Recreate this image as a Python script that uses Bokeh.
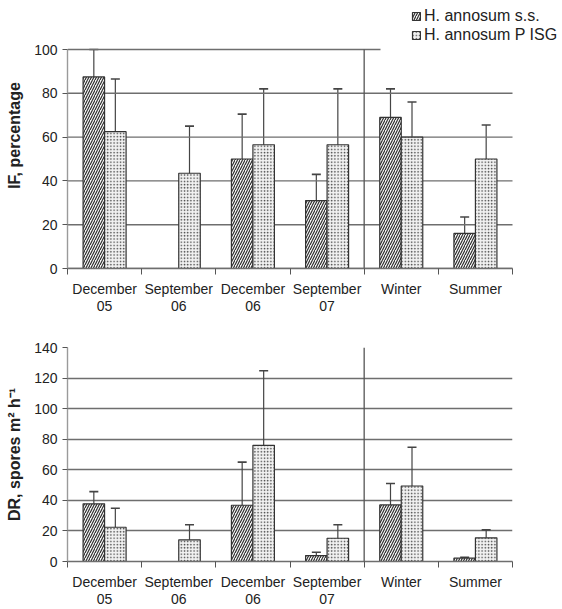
from bokeh.plotting import figure
from bokeh.models import (ColumnDataSource, Range1d, FixedTicker, Whisker, TeeHead,
                          Legend, LegendItem, Span, BoxAnnotation)
from bokeh.layouts import column
from bokeh.embed import file_html
from bokeh.resources import INLINE

nan = float("nan")

# ---------------- data ----------------
categories = ["December\n05", "September\n06", "December\n06", "September\n07", "Winter", "Summer"]
series_names = ["H. annosum s.s.", "H. annosum P ISG"]

if_ss = [87.5, 0, 50, 31, 69, 16]
if_ss_hi = [100, nan, 70.5, 43, 82, 23.5]
if_ss_lo = [75, nan, 29.5, 19, 56, 8.5]
if_p = [62.5, 43.5, 56.5, 56.5, 60, 50]
if_p_hi = [86.5, 65, 82, 82, 76, 65.5]
if_p_lo = [38.5, 22, 31, 31, 44, 34.5]

dr_ss = [37.7, 0, 36.8, 3.9, 37, 2.2]
dr_ss_hi = [45.7, nan, 65, 6.1, 51, 2.8]
dr_ss_lo = [29.7, nan, 8.6, 1.7, 23, 1.6]
dr_p = [22.4, 14.2, 76, 15.2, 49.4, 15.5]
dr_p_hi = [34.8, 24, 124.8, 24, 74.7, 20.7]
dr_p_lo = [10, 4.4, 27.2, 6.4, 24.1, 10.3]

if_ticks = [0, 20, 40, 60, 80, 100]
dr_ticks = [0, 20, 40, 60, 80, 100, 120, 140]

# ---------------- style / layout ----------------
FONT = "Liberation Sans"
TXT = "#222222"
GRID = "#6e6e6e"
BAR_W = 0.29
SEP_AT = 3.5          # boundary between 'September 07' and 'Winter'
N = len(categories)
FRAME_L = 67          # px
PLOT_W = 445          # px of the category area
CANVAS_W = 562
PX_PER_CAT = PLOT_W / N


def style_axes(p, yticks, ylabel):
    n = N
    xc = list(range(n))
    p.outline_line_color = None
    p.background_fill_color = "white"
    p.border_fill_color = "white"
    p.xgrid.grid_line_color = None

    p.yaxis.ticker = FixedTicker(ticks=yticks)
    p.yaxis.bounds = (yticks[0], yticks[-1])
    p.yaxis.axis_line_color = "#9a9a9a"
    p.yaxis.axis_line_width = 1.4
    p.yaxis.major_tick_line_color = "#555555"
    p.yaxis.major_tick_out = 5
    p.yaxis.major_tick_in = 0
    p.yaxis.minor_tick_line_color = None
    p.yaxis.major_label_text_font = FONT
    p.yaxis.major_label_text_font_size = "14px"
    p.yaxis.major_label_text_color = TXT
    p.yaxis.major_label_standoff = 5
    p.yaxis.axis_label = ylabel
    p.yaxis.axis_label_text_font = FONT
    p.yaxis.axis_label_text_font_style = "bold"
    p.yaxis.axis_label_text_font_size = "16px"
    p.yaxis.axis_label_text_color = TXT
    p.yaxis.axis_label_standoff = 8

    p.xaxis.ticker = FixedTicker(ticks=xc, minor_ticks=[i - 0.5 for i in range(n + 1)])
    p.xaxis.bounds = (-0.5, n - 0.5)
    p.xaxis.major_label_overrides = {i: c for i, c in zip(xc, categories)}
    p.xaxis.axis_line_color = GRID
    p.xaxis.axis_line_width = 1.4
    p.xaxis.major_tick_line_color = None
    p.xaxis.major_tick_out = 0
    p.xaxis.major_tick_in = 0
    p.xaxis.minor_tick_line_color = "#555555"
    p.xaxis.minor_tick_out = 6
    p.xaxis.minor_tick_in = 0
    p.xaxis.major_label_text_font = FONT
    p.xaxis.major_label_text_font_size = "14px"
    p.xaxis.major_label_text_color = TXT
    p.xaxis.major_label_text_line_height = 1.1
    p.xaxis.major_label_standoff = 6


def add_bars(p, vals_ss, hi_ss, lo_ss, vals_p, hi_p, lo_p):
    xc = list(range(N))
    src = ColumnDataSource(dict(
        x_ss=[x - BAR_W / 2 for x in xc], x_p=[x + BAR_W / 2 for x in xc],
        ss=vals_ss, ss_hi=hi_ss, ss_lo=lo_ss, pp=vals_p, p_hi=hi_p, p_lo=lo_p))
    r1 = p.vbar(x="x_ss", top="ss", bottom=0, width=BAR_W, source=src,
                fill_color="#f4f4f4", line_color="#333333", line_width=1.2,
                hatch_pattern="/", hatch_scale=5, hatch_weight=1.1, hatch_color="#262626")
    r2 = p.vbar(x="x_p", top="pp", bottom=0, width=BAR_W, source=src,
                fill_color="#f2f2f2", line_color="#333333", line_width=1.2,
                hatch_pattern=".", hatch_scale=3.2, hatch_weight=1.0, hatch_color="#444444")
    for xk, lo, hi in (("x_ss", "ss_lo", "ss_hi"), ("x_p", "p_lo", "p_hi")):
        p.add_layout(Whisker(base=xk, lower=lo, upper=hi, source=src, dimension="height",
                             line_color="#444444", line_width=1.2,
                             upper_head=TeeHead(size=9, line_color="#444444", line_width=1.6),
                             lower_head=None))
    return r1, r2


# ---------------- top panel (IF) ----------------
TOP_FRAME_TOP = 2
TOP_Y100_PX = 49
TOP_Y0_PX = 268
top_px_per_unit = (TOP_Y0_PX - TOP_Y100_PX) / if_ticks[-1]
top_ymax = if_ticks[-1] + (TOP_Y100_PX - TOP_FRAME_TOP) / top_px_per_unit
top_frame_w = CANVAS_W - FRAME_L
top_xmax = -0.5 + top_frame_w / PX_PER_CAT

top = figure(frame_width=top_frame_w, frame_height=TOP_Y0_PX - TOP_FRAME_TOP,
             output_backend="svg", toolbar_location=None,
             x_range=Range1d(-0.5, top_xmax), y_range=Range1d(0, top_ymax),
             min_border_left=FRAME_L, min_border_right=0, min_border_top=TOP_FRAME_TOP,
             min_border_bottom=60)
style_axes(top, if_ticks, "IF, percentage")
top.ygrid.grid_line_color = None
top.segment(x0=-0.5, x1=N - 0.5, y0=if_ticks, y1=if_ticks, line_color=GRID, line_width=1.4)
top.segment(x0=[SEP_AT], x1=[SEP_AT], y0=[0], y1=[if_ticks[-1]], line_color="#555555",
            line_width=1.3)
r1, r2 = add_bars(top, if_ss, if_ss_hi, if_ss_lo, if_p, if_p_hi, if_p_lo)

# white legend box that hides the end of the top line (as in the reference)
LEG_BOX_LEFT_PX = 380
top.add_layout(BoxAnnotation(left=-0.5 + (LEG_BOX_LEFT_PX - FRAME_L) / PX_PER_CAT,
                             right=top_xmax, bottom=if_ticks[-1] - 1.5, top=top_ymax,
                             fill_color="white", fill_alpha=1.0, line_color=None))
leg = Legend(items=[LegendItem(label=series_names[0], renderers=[r1]),
                    LegendItem(label=series_names[1], renderers=[r2])],
             location=(344, 224), orientation="vertical",
             background_fill_color="white", background_fill_alpha=1.0,
             border_line_color=None, padding=2, margin=0, spacing=1,
             glyph_width=10, glyph_height=10, label_height=17,
             label_standoff=3, label_text_font=FONT,
             label_text_font_size="16px", label_text_color=TXT)
top.add_layout(leg, "center")

# ---------------- bottom panel (DR) ----------------
bottom = figure(frame_width=PLOT_W, frame_height=214, output_backend="svg",
                toolbar_location=None,
                x_range=Range1d(-0.5, N - 0.5), y_range=Range1d(0, dr_ticks[-1]),
                min_border_left=FRAME_L, min_border_right=CANVAS_W - FRAME_L - PLOT_W,
                min_border_top=19, min_border_bottom=46)
style_axes(bottom, dr_ticks, "DR, spores m² h⁻¹")
bottom.ygrid.ticker = FixedTicker(ticks=dr_ticks)
bottom.ygrid.grid_line_color = GRID
bottom.ygrid.grid_line_width = 1.4
bottom.add_layout(Span(location=SEP_AT, dimension="height", line_color="#555555",
                       line_width=1.3))
add_bars(bottom, dr_ss, dr_ss_hi, dr_ss_lo, dr_p, dr_p_hi, dr_p_lo)

layout = column(top, bottom, spacing=0)
open("out.html", "w").write(file_html(layout, INLINE))
